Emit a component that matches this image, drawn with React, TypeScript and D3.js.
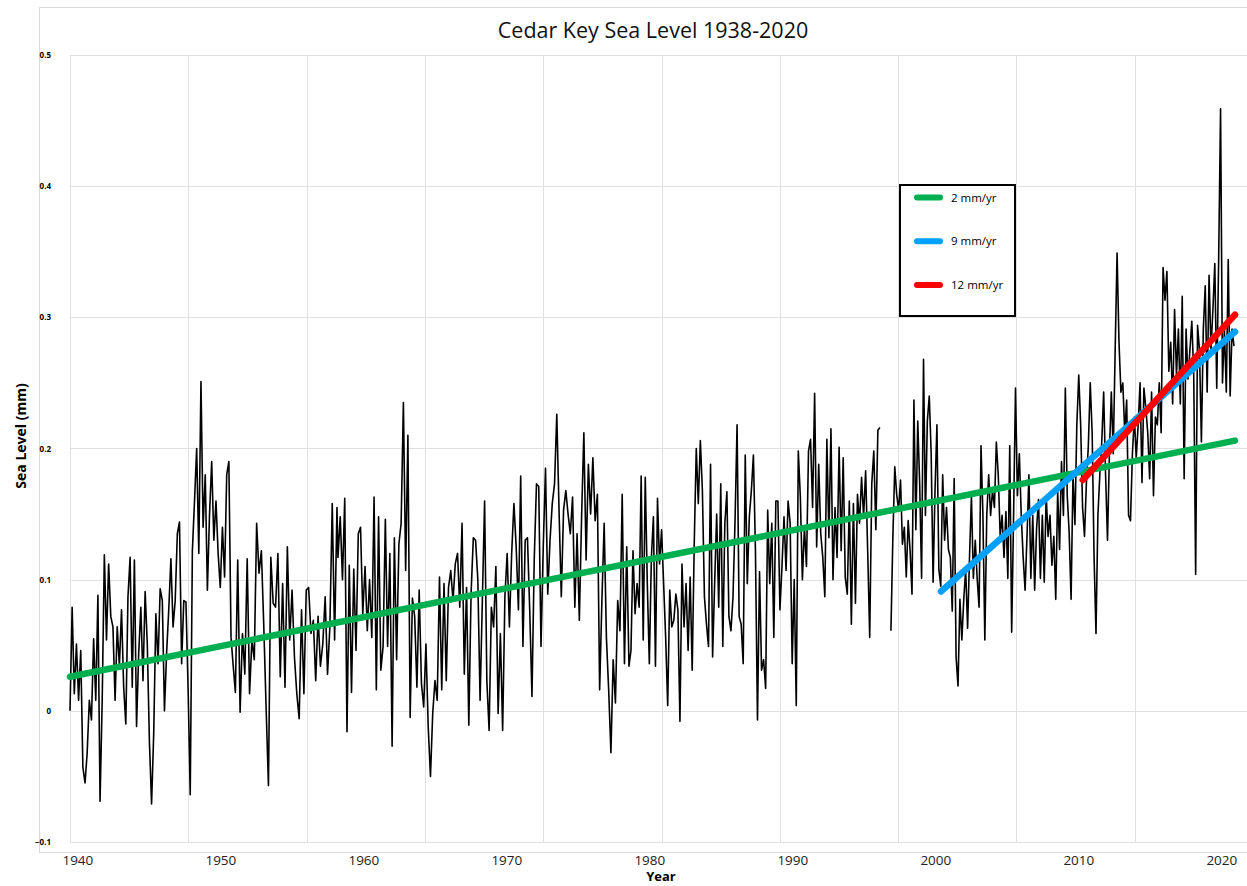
import React, { useEffect, useRef } from 'react';
import * as d3 from 'd3';

// sea level readings, one list per stretch of years
const level1939 = [
    0, 0.079, 0.013, 0.051, 0.008, 0.046, -0.043, -0.055, -0.032, 0.008,
    -0.007, 0.055, 0.008, 0.088, -0.069, 0.008, 0.119, 0.054, 0.112, 0.072,
    0.064, 0.008, 0.064, 0.034, 0.077, 0.018, -0.01, 0.087, 0.117, 0.018,
    0.115, -0.012, 0.044, 0.079, 0.023, 0.091, 0.051, -0.024, -0.071, -0.017,
    0.074, 0.036, 0.093, 0.084, 0, 0.044, 0.077, 0.116, 0.064, 0.084,
    0.135, 0.144, 0.036, 0.084, 0.083, 0.018, -0.064, 0.122, 0.16,
    0.2, 0.12, 0.251, 0.14, 0.18, 0.092, 0.15, 0.19, 0.13, 0.16,
    0.12, 0.094, 0.14, 0.102, 0.18, 0.19, 0.056
];
const level1951 = [
    0.036, 0.014, 0.115, -0.001, 0.059, 0.028, 0.116, 0.013, 0.054, 0.039,
    0.143, 0.105, 0.122, 0.066, 0.003, -0.057, 0.117, 0.082, 0.079, 0.12,
    0.026, 0.097, 0.018, 0.125, 0.054, 0.092, 0.041, 0.013, -0.006, 0.077,
    0.013, 0.092, 0.094, 0.059, 0.069, 0.023, 0.072, 0.034, 0.051, 0.087,
    0.028, 0.064, 0.158, 0.054, 0.155
];
const level1958 = [
    0.117, 0.148, 0.1, 0.162, -0.016, 0.111, 0.014, 0.108, 0.046, 0.135,
    0.14, 0.074, 0.11, 0.061, 0.1, 0.056, 0.163, 0.016, 0.148, 0.031,
    0.049, 0.146, 0.049, 0.12, -0.027, 0.132, 0.039, 0.127, 0.143, 0.235,
    0.107, 0.21, -0.005, 0.086, 0.072, 0.018, 0.092, 0.021, 0.003, 0.051,
    -0.012, -0.05, -0.002, 0.023, 0.008, 0.102, 0.016, 0.097, 0.023, 0.094,
    0.107, 0.084, 0.112, 0.12, 0.079, 0.143, 0.028, 0.094, -0.011, 0.089,
    0.132, 0.13, 0.1, 0.008, 0.084, 0.16, 0.023, -0.015, 0.079, 0.064,
    0.11, -0.002, 0.059, -0.015, 0.087, 0.12, 0.064, 0.12, 0.158, 0.125,
    0.077, 0.179, 0.049, 0.13, 0.132, 0.077, 0.011, 0.115, 0.173, 0.171,
    0.049, 0.125, 0.185, 0.089, 0.13, 0.158, 0.173, 0.226, 0.153, 0.087,
    0.153, 0.168, 0.15, 0.135, 0.163, 0.079, 0.135, 0.069, 0.148, 0.212,
    0.115, 0.188, 0.15, 0.193, 0.145, 0.165, 0.016, 0.084, 0.143, 0.056,
    0.016, -0.032, 0.039, 0.006, 0.084, 0.061, 0.165, 0.036, 0.125, 0.034
];
const level1979 = [
    0.046, 0.122, 0.074, 0.097, 0.079, 0.179, 0.054, 0.178, 0.097, 0.036,
    0.117, 0.148, 0.034, 0.162, 0.112, 0.138, 0.097, 0.056, 0.004, 0.092,
    0.064, 0.069, 0.089, 0.077, -0.008, 0.112, 0.064, 0.097, 0.046, 0.102,
    0.031, 0.127, 0.2, 0.158, 0.206, 0.168, 0.087, 0.066, 0.049, 0.188,
    0.041, 0.097, 0.15, 0.079, 0.173, 0.049, 0.143, 0.167, 0.072, 0.061,
    0.087, 0.145, 0.218, 0.072, 0.066, 0.036, 0.195, 0.097, 0.148, 0.168,
    0.195, 0.122, -0.007, 0.106, 0.031, 0.039, 0.017, 0.153, 0.097, 0.143,
    0.056, 0.16, 0.16, 0.077, 0.11, 0.148, 0.107, 0.16, 0.143, 0.036,
    0.1, 0.004, 0.198, 0.163, 0.1, 0.14, 0.11, 0.198, 0.207, 0.155,
    0.242, 0.125, 0.188, 0.135, 0.117, 0.087, 0.207, 0.132, 0.215, 0.1,
    0.155, 0.117, 0.201, 0.122, 0.193, 0.102, 0.089, 0.16, 0.066, 0.158,
    0.082, 0.165, 0.143, 0.178, 0.148, 0.183, 0.122, 0.056, 0.173, 0.198,
    0.138, 0.214, 0.216
];
// after the gap in the record
const level1997 = [
    0.061, 0.132, 0.186, 0.165, 0.153, 0.176, 0.127, 0.14, 0.102, 0.145,
    0.122, 0.089, 0.237, 0.138, 0.221, 0.173,
    0.101, 0.268, 0.149, 0.221, 0.24, 0.196, 0.098, 0.168, 0.218, 0.108,
    0.095, 0.18, 0.13, 0.155, 0.123, 0.117, 0.076, 0.177, 0.041, 0.019,
    0.085, 0.054, 0.085, 0.108, 0.063, 0.117, 0.164, 0.101, 0.13, 0.101,
    0.079, 0.202, 0.149, 0.054, 0.149, 0.18, 0.149, 0.168, 0.155, 0.205,
    0.18, 0.133, 0.149, 0.117, 0.152, 0.101, 0.202, 0.06, 0.149, 0.246,
    0.164, 0.196, 0.149, 0.117, 0.092, 0.133, 0.18, 0.101, 0.149, 0.092,
    0.139, 0.161, 0.101, 0.149, 0.098, 0.164, 0.133, 0.149, 0.111, 0.133,
    0.085, 0.168, 0.123, 0.19, 0.149, 0.246, 0.164, 0.136, 0.085, 0.18,
    0.142, 0.218, 0.256, 0.218, 0.155, 0.133, 0.174, 0.202, 0.25, 0.212,
    0.117, 0.059, 0.149, 0.18, 0.205, 0.243, 0.18, 0.13, 0.196, 0.243,
    0.196, 0.275, 0.349, 0.281, 0.243, 0.25, 0.212, 0.237, 0.149, 0.145,
    0.196, 0.224, 0.193, 0.218, 0.25, 0.174, 0.246, 0.231, 0.212, 0.177,
    0.243, 0.164, 0.224, 0.218, 0.25, 0.212, 0.338, 0.313, 0.335, 0.259,
    0.281, 0.234, 0.306, 0.256, 0.291, 0.234, 0.316, 0.177, 0.291, 0.253,
    0.275, 0.297, 0.256, 0.104, 0.294, 0.275, 0.205, 0.291, 0.324, 0.243,
    0.332, 0.275, 0.306, 0.341, 0.246, 0.344, 0.459, 0.25, 0.291, 0.243,
    0.344, 0.24, 0.291, 0.278
];

// first and last year covered by each list above
const stretchYears = [
    [1939.45, 1950.71],
    [1950.85, 1958.12],
    [1958.19, 1978.54],
    [1978.68, 1996.09],
    [1996.86, 2020.85],
];

const yearTicks = [1940, 1950, 1960, 1970, 1980, 1990, 2000, 2010, 2020];
const levelTicks = [-0.1, 0, 0.1, 0.2, 0.3, 0.4, 0.5];

// trend lines [year, level]
const trend2mm = [[1939.45, 0.026], [2020.92, 0.206]];
const trend9mm = [[2000.36, 0.091], [2020.92, 0.289]];
const trend12mm = [[2010.27, 0.176], [2020.92, 0.302]];

const legendLabels = ['2 mm/yr', '9 mm/yr', '12 mm/yr'];
const legendColors = ['#00b050', '#00a0ff', '#ff0000'];

const FONT = "'Open Sans', 'Noto Sans', sans-serif";

const App: React.FC = () => {
    const ref = useRef<SVGSVGElement>(null);

    useEffect(() => {
        const svg = d3.select(ref.current);
        svg.selectAll('*').remove();

        const left = 70, right = 1253, top = 55, bottom = 842;

        const x = d3.scaleLinear().domain([1939.45, 2022.18]).range([left, right]);
        const y = d3.scaleLinear().domain([-0.1, 0.5]).range([bottom, top]);
        // Excel-style vertical gridlines, 10 equal bands
        const band = d3.scaleLinear().domain([0, 10]).range([left, right]);

        // chart frame
        svg.append('rect')
            .attr('x', 39.5).attr('y', 7.5)
            .attr('width', 1260).attr('height', 845)
            .attr('fill', 'white')
            .attr('stroke', '#d9d9d9');

        svg.append('g').selectAll('line')
            .data(levelTicks).enter()
            .append('line')
            .attr('x1', left).attr('x2', right)
            .attr('y1', d => Math.round(y(d)) + 0.5)
            .attr('y2', d => Math.round(y(d)) + 0.5)
            .attr('stroke', '#e0e0e0');

        svg.append('g').selectAll('line')
            .data(d3.range(0, 11)).enter()
            .append('line')
            .attr('x1', d => Math.round(band(d)) + 0.5)
            .attr('x2', d => Math.round(band(d)) + 0.5)
            .attr('y1', top).attr('y2', bottom)
            .attr('stroke', '#e0e0e0');

        svg.append('g').selectAll('text')
            .data(levelTicks).enter()
            .append('text')
            .attr('x', 51)
            .attr('y', d => y(d) + 3)
            .attr('text-anchor', 'end')
            .style('font-family', FONT)
            .style('font-size', '8px')
            .style('font-weight', 'bold')
            .text(d => d3.format('')(d));

        svg.append('g').selectAll('text')
            .data(yearTicks).enter()
            .append('text')
            .attr('x', d => x(d))
            .attr('y', 865)
            .attr('text-anchor', 'middle')
            .style('font-family', FONT)
            .style('font-size', '13.5px')
            .attr('fill', '#222')
            .text(d => d);

        svg.append('text')
            .attr('x', 653).attr('y', 38)
            .attr('text-anchor', 'middle')
            .style('font-family', FONT)
            .style('font-size', '21.5px')
            .style('font-weight', 500)
            .attr('fill', '#111')
            .text('Cedar Key Sea Level 1938-2020');

        svg.append('text')
            .attr('x', 661).attr('y', 881)
            .attr('text-anchor', 'middle')
            .style('font-family', FONT)
            .style('font-size', '13px')
            .style('font-weight', 'bold')
            .text('Year');

        svg.append('text')
            .attr('transform', 'translate(26, 436) rotate(-90)')
            .attr('text-anchor', 'middle')
            .style('font-family', FONT)
            .style('font-size', '14px')
            .style('font-weight', 'bold')
            .text('Sea Level (mm)');

        // gauge series
        const stretches = [level1939, level1951, level1958, level1979, level1997];
        const points: ([number, number] | null)[] = [];
        stretches.forEach((vals, i) => {
            const [y0, y1] = stretchYears[i];
            if (i === 4) points.push(null); // gap in record
            vals.forEach((v, j) => {
                points.push([y0 + (y1 - y0) * j / (vals.length - 1), v]);
            });
        });

        const line = d3.line<[number, number] | null>()
            .defined(d => d !== null)
            .x(d => x(d![0]))
            .y(d => y(d![1]));

        svg.append('path')
            .attr('d', line(points))
            .attr('fill', 'none')
            .attr('stroke', 'black')
            .attr('stroke-width', 1.6)
            .attr('stroke-linejoin', 'round');

        const trendLine = d3.line<number[]>().x(d => x(d[0])).y(d => y(d[1]));
        [trend2mm, trend9mm, trend12mm].forEach((t, i) => {
            svg.append('path')
                .attr('d', trendLine(t))
                .attr('stroke', legendColors[i])
                .attr('stroke-width', 6.5)
                .attr('stroke-linecap', 'round')
                .attr('fill', 'none');
        });

        // legend
        const legend = svg.append('g');
        legend.append('rect')
            .attr('x', 900).attr('y', 185)
            .attr('width', 115).attr('height', 131)
            .attr('fill', 'white')
            .attr('stroke', 'black')
            .attr('stroke-width', 2);
        const rowY = d3.scaleLinear().domain([0, 1]).range([197.5, 241.2]);
        legendLabels.forEach((label, i) => {
            legend.append('line')
                .attr('x1', 917).attr('x2', 940)
                .attr('y1', rowY(i)).attr('y2', rowY(i))
                .attr('stroke', legendColors[i])
                .attr('stroke-width', 6)
                .attr('stroke-linecap', 'round');
            legend.append('text')
                .attr('x', 951)
                .attr('y', rowY(i) + 4)
                .style('font-family', FONT)
                .style('font-size', '11.5px')
                .text(label);
        });
    }, []);

    return (
        <div style={{ position: 'absolute', left: 0, top: 0 }}>
            <svg ref={ref} width={1247} height={886} style={{ display: 'block', background: 'white' }} />
        </div>
    );
};

export default App;
